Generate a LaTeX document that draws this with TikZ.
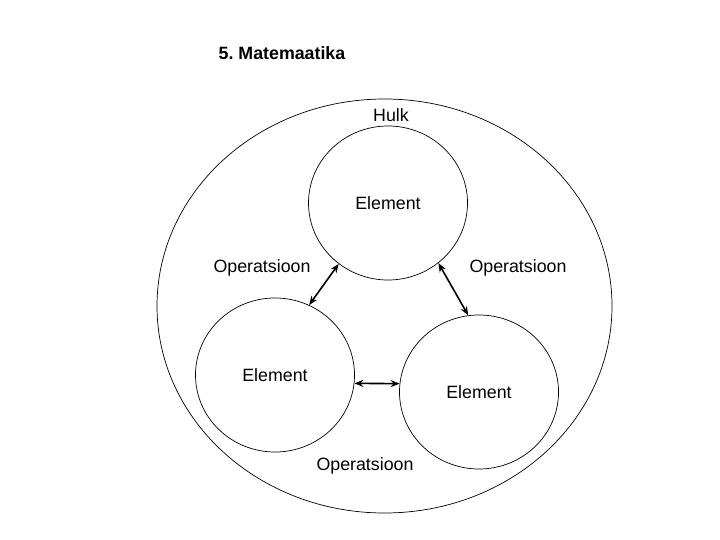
\documentclass[tikz,border=0pt]{standalone}
\usepackage{fontspec}
\setmainfont{Liberation Sans}
\usetikzlibrary{shapes.geometric,arrows.meta}
\frenchspacing
\begin{document}
\begin{tikzpicture}[x=1pt,y=-1pt,
  lbl/.style={font=\fontsize{17.8}{20}\selectfont, inner sep=0pt},
  setc/.style={draw, ellipse, line width=0.7pt, inner sep=0pt, minimum width=159pt, minimum height=154pt, font=\fontsize{17.8}{20}\selectfont},
  link/.style={line width=1.6pt, {Stealth[length=9pt,width=7pt]}-{Stealth[length=9pt,width=7pt]}}]
\useasboundingbox (0,0) rectangle (720,540);
\node[draw, ellipse, line width=0.7pt, minimum width=455pt, minimum height=414pt, inner sep=0pt] (H) at (384.5,306) {};
\node[lbl, font=\bfseries\fontsize{17.8}{20}\selectfont] (title) at (282,53) {5.\ Matemaatika};
\node[lbl] (hulk) at (391,115) {Hulk};
\node[setc] (T) at (388,203) {Element};
\node[setc] (L) at (275,375) {Element};
\node[setc] (R) at (479,392) {Element};
\node[lbl] (opL) at (262,268) {Operatsioon};
\node[lbl] (opR) at (518,268) {Operatsioon};
\node[lbl] (opB) at (365,466) {Operatsioon};
\draw[link] (L.64) -- (T.231);
\draw[link] (T.310) -- (R.98);
\draw[link] (L.354) -- (R.174);
\end{tikzpicture}
\end{document}
